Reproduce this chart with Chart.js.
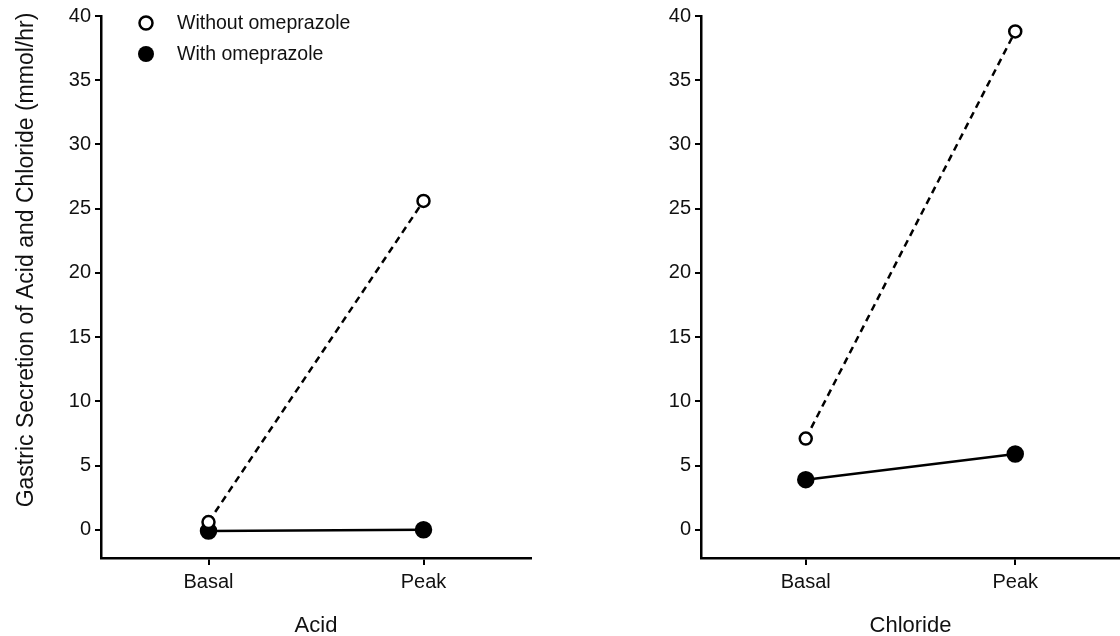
<!DOCTYPE html>
<html>
<head>
<meta charset="utf-8">
<script src="https://cdn.jsdelivr.net/npm/chart.js@4/dist/chart.umd.min.js"></script>
<style>
  html, body { margin: 0; padding: 0; background: #fff; overflow: hidden; }
  #wrap { position: relative; width: 1120px; height: 636px; }
  .panel { position: absolute; top: 0; height: 636px; }
</style>
</head>
<body>
<div id="wrap">
  <div class="panel" style="left:0; width:560px;"><canvas id="acidChart"></canvas></div>
  <div class="panel" style="left:600px; width:530px;"><canvas id="chlorideChart"></canvas></div>
</div>
<script>
// values (mmol/hr)
const categories = ['Basal', 'Peak'];
const acidWithout = [0.6, 25.6];
const acidWith = [-0.1, 0.0];
const chlorideWithout = [7.1, 38.8];
const chlorideWith = [3.9, 5.9];
const yTickValues = [0, 5, 10, 15, 20, 25, 30, 35, 40];
const seriesNames = ['Without omeprazole', 'With omeprazole'];

const FONT = '"Liberation Sans", Arial, sans-serif';

function makeDatasets(without, withO) {
    return [{
        label: seriesNames[0],
        data: without,
        borderColor: '#000',
        borderWidth: 2.5,
        borderDash: [7, 5],
        backgroundColor: '#fff',
        pointBackgroundColor: '#fff',
        pointBorderColor: '#000',
        pointBorderWidth: 2.5,
        pointRadius: 6,
        tension: 0
    }, {
        label: seriesNames[1],
        data: withO,
        borderColor: '#000',
        borderWidth: 2.5,
        backgroundColor: '#000',
        pointBackgroundColor: '#000',
        pointBorderColor: '#000',
        pointRadius: 7.5,
        tension: 0
    }];
}

// legend drawn inside the left plot
const innerLegend = {
    id: 'innerLegend',
    afterDraw(chart) {
        const ctx = chart.ctx;
        ctx.save();
        ctx.lineWidth = 2.5;
        ctx.strokeStyle = '#000';
        ctx.fillStyle = '#fff';
        ctx.beginPath();
        ctx.arc(146, 23, 6.5, 0, Math.PI * 2);
        ctx.fill();
        ctx.stroke();
        ctx.fillStyle = '#000';
        ctx.beginPath();
        ctx.arc(146, 54, 8, 0, Math.PI * 2);
        ctx.fill();
        ctx.font = '19.5px ' + FONT;
        ctx.textBaseline = 'middle';
        ctx.fillStyle = '#111';
        ctx.fillText(seriesNames[0], 177, 24);
        ctx.fillText(seriesNames[1], 177, 55);
        ctx.restore();
    }
};

// y title sits a bit above the plot centre in the original
const yTitle = {
    id: 'yTitle',
    afterDraw(chart) {
        const ctx = chart.ctx;
        ctx.save();
        ctx.translate(33, 260);
        ctx.rotate(-Math.PI / 2);
        ctx.font = '23px ' + FONT;
        ctx.fillStyle = '#111';
        ctx.textAlign = 'center';
        ctx.textBaseline = 'alphabetic';
        ctx.fillText('Gastric Secretion of Acid and Chloride (mmol/hr)', 0, 0);
        ctx.restore();
    }
};

function makeOptions(xTitle, rightPad) {
    return {
        responsive: true,
        maintainAspectRatio: false,
        animation: false,
        layout: { padding: { top: 16, right: rightPad, left: 0, bottom: 0 } },
        plugins: { legend: { display: false }, tooltip: { enabled: false } },
        scales: {
            x: {
                type: 'category',
                offset: true,
                grid: { drawOnChartArea: false, drawTicks: true, tickLength: 7, color: '#000', lineWidth: 2 },
                border: { display: true, color: '#000', width: 2.5 },
                ticks: { color: '#111', font: { family: FONT, size: 20 }, padding: 5 },
                title: { display: true, text: xTitle, color: '#111', font: { family: FONT, size: 22 }, padding: { top: 0, bottom: -3 } },
                afterFit(s) { s.height = 78; }
            },
            y: {
                min: -2.2,
                max: 40,
                grid: { drawOnChartArea: false, drawTicks: true, tickLength: 6, color: '#000', lineWidth: 2 },
                border: { display: true, color: '#000', width: 2.5 },
                afterBuildTicks(s) { s.ticks = yTickValues.map(v => ({ value: v })); },
                ticks: { color: '#111', font: { family: FONT, size: 20 }, padding: 4 },
                afterFit(s) { s.width = 101; }
            }
        }
    };
}

new Chart(document.getElementById('acidChart'), {
    type: 'line',
    data: { labels: categories, datasets: makeDatasets(acidWithout, acidWith) },
    options: makeOptions('Acid', 29),
    plugins: [innerLegend, yTitle]
});

new Chart(document.getElementById('chlorideChart'), {
    type: 'line',
    data: { labels: categories, datasets: makeDatasets(chlorideWithout, chlorideWith) },
    options: makeOptions('Chloride', 6)
});
</script>
</body>
</html>
